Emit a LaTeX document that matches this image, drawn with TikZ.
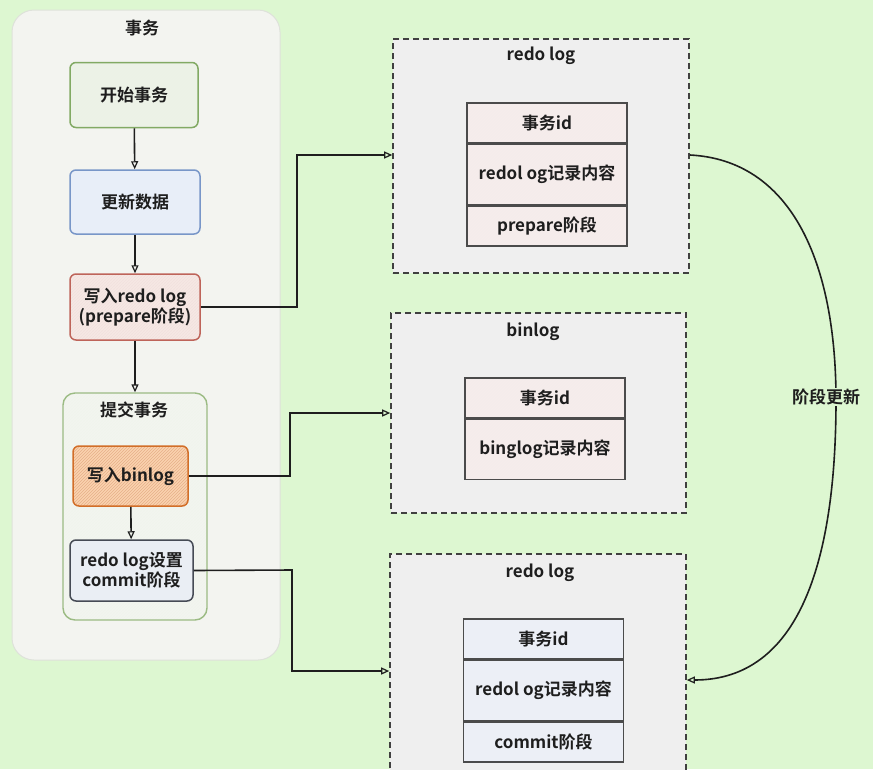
\documentclass[tikz,border=0pt]{standalone}
\usepackage{fontspec}
\setmainfont{Noto Sans CJK SC}[BoldFont={Noto Sans CJK SC Bold}]
\usetikzlibrary{arrows.meta,patterns}
\definecolor{bg}{RGB}{221,247,209}
\definecolor{outerfill}{RGB}{243,244,240}
\definecolor{outerline}{RGB}{222,226,218}
\definecolor{grnline}{RGB}{130,170,100}
\definecolor{grnfill}{RGB}{236,242,230}
\definecolor{bluline}{RGB}{120,150,200}
\definecolor{blufill}{RGB}{232,238,248}
\definecolor{redline}{RGB}{190,100,90}
\definecolor{redfill}{RGB}{246,232,228}
\definecolor{orline}{RGB}{210,110,40}
\definecolor{orfill}{RGB}{250,210,175}
\definecolor{gryline}{RGB}{70,75,85}
\definecolor{gryfill}{RGB}{234,238,244}
\definecolor{boxfill}{RGB}{239,239,239}
\definecolor{pinkcell}{RGB}{244,236,235}
\definecolor{bluecell}{RGB}{236,239,246}
\definecolor{ink}{RGB}{30,30,30}
\tikzset{
  lbl/.style={font=\bfseries\fontsize{17}{20}\selectfont, text=ink, align=center},
  proc/.style={draw, rounded corners=6pt, line width=1.5pt, lbl, inner sep=0pt},
  dbox/.style={draw=ink!85, dashed, dash pattern=on 6pt off 4pt, line width=1.6pt, fill=boxfill, inner sep=0pt},
  cell/.style={draw=ink!80, line width=1.4pt, lbl, inner sep=0pt, minimum width=160pt},
  hatch/.style 2 args={preaction={fill=#1}, preaction={pattern=north east lines, pattern color=#2}},
  arr/.style={-{Triangle[open,length=8pt,width=7pt,line width=1.2pt]}, line width=1.6pt, draw=ink},
}
\begin{document}
\begin{tikzpicture}[x=1pt,y=-1pt]
\fill[bg] (0,0) rectangle (873,769);
\useasboundingbox (0,0) rectangle (873,769);

% outer container
\node[draw=outerline, fill=outerfill, rounded corners=22pt, line width=1pt, minimum width=268pt, minimum height=650pt, inner sep=0pt] (outer) at (146,335) {};
\node[lbl] (outerT) at (142,28) {事务};

\node[proc, draw=grnline, hatch={grnfill}{grnline!15}, minimum width=128pt, minimum height=65pt] (start) at (134,95) {开始事务};
\node[proc, draw=bluline, fill=blufill, minimum width=130pt, minimum height=64pt] (upd) at (135,202) {更新数据};
\node[proc, draw=redline, hatch={redfill}{redline!20}, minimum width=130pt, minimum height=66pt] (wredo) at (135,307) {写入redo log\\(prepare阶段)};

% commit container
\node[draw=grnline!80, hatch={outerfill}{grnline!12}, rounded corners=12pt, line width=1.4pt, minimum width=144pt, minimum height=227pt, inner sep=0pt] (commitbox) at (135,506.5) {};
\node[lbl] (commitT) at (134,410) {提交事务};

\node[proc, draw=orline, hatch={orfill}{orline!55}, minimum width=115pt, minimum height=60pt] (wbin) at (130.5,476) {写入binlog};
\node[proc, draw=gryline, fill=gryfill, minimum width=123pt, minimum height=61pt] (rcommit) at (131.5,570.5) {redo log设置\\commit阶段};

\draw[arr] (start) -- (upd);
\draw[arr] (upd) -- (wredo);
\draw[arr] (wredo) -- (commitbox);
\draw[arr] (wbin) -- (rcommit);

% right boxes
\node[dbox, minimum width=296pt, minimum height=234pt] (box1) at (541,156) {};
\node[lbl] (box1T) at (541,56) {redo log};
\node[cell, hatch={pinkcell}{redline!12}, minimum height=40pt] (c11) at (547,123) {事务id};
\node[cell, hatch={pinkcell}{redline!12}, minimum height=60pt, anchor=north] (c12) at (c11.south) {redol og记录内容};
\node[cell, hatch={pinkcell}{redline!12}, minimum height=40pt, anchor=north] (c13) at (c12.south) {prepare阶段};

\node[dbox, minimum width=295pt, minimum height=200pt] (box2) at (538.5,413) {};
\node[lbl] (box2T) at (533,332) {binlog};
\node[cell, hatch={pinkcell}{redline!12}, minimum height=40pt] (c21) at (545,398) {事务id};
\node[cell, hatch={pinkcell}{redline!12}, minimum height=60pt, anchor=north] (c22) at (c21.south) {binglog记录内容};

\node[dbox, minimum width=296pt, minimum height=240pt] (box3) at (538,674) {};
\node[lbl] (box3T) at (540,573) {redo log};
\node[cell, fill=bluecell, minimum height=40pt] (c31) at (543.5,639) {事务id};
\node[cell, fill=bluecell, minimum height=60pt, anchor=north] (c32) at (c31.south) {redol og记录内容};
\node[cell, fill=bluecell, minimum height=40pt, anchor=north] (c33) at (c32.south) {commit阶段};

% connectors
\coordinate (k1) at (297,307);
\coordinate (k2) at (297,155);
\draw[arr] (wredo.east) -- (k1) -- (k2) -- (box1.west |- k2);
\coordinate (m1) at (290,476);
\coordinate (m2) at (290,413);
\draw[arr] (wbin.east) -- (m1) -- (m2) -- (box2.west |- m2);
\coordinate (n1) at (292,570);
\coordinate (n2) at (292,671);
\draw[arr] (rcommit.east) -- (n1) -- (n2) -- (box3.west |- n2);

\coordinate (p1) at (689,155);
\coordinate (pm) at (836,400);
\coordinate (p2) at (690,680);
\draw[arr] (box1.east |- p1) .. controls (790,160) and (836,260) .. (pm) .. controls (836,560) and (800,680) .. (box3.east |- p2);
\node[lbl, fill=bg, inner sep=1pt] (upd2) at (826,397) {阶段更新};
\end{tikzpicture}
\end{document}
